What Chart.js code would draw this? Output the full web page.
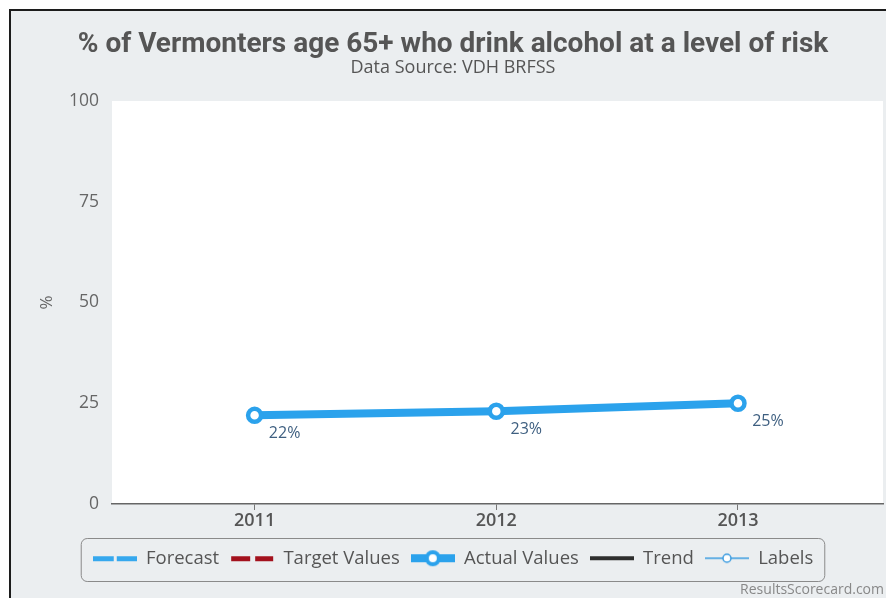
<!DOCTYPE html>
<html>
<head>
<meta charset="utf-8">
<script src="https://cdn.jsdelivr.net/npm/chart.js@4/dist/chart.umd.min.js"></script>
<style>
  html, body { margin: 0; padding: 0; background: #ffffff; overflow: hidden; width: 886px; height: 598px; }
  #frame { position: absolute; left: 9px; top: 9px; width: 900px; height: 600px;
           border-top: 2px solid #1c1c1c; border-left: 2px solid #1c1c1c; background: #ebeef0; }
  #c { position: absolute; left: 0; top: 0; }
</style>
</head>
<body>
<div id="frame"><canvas id="c" width="884" height="590"></canvas></div>
<script>
// ---- data ----
const chartTitle = '% of Vermonters age 65+ who drink alcohol at a level of risk';
const chartSubtitle = 'Data Source: VDH BRFSS';
const years = [2011, 2012, 2013];
const actualValues = [22, 23, 25];
const yTickValues = [0, 25, 50, 75, 100];
const legendNames = ['Forecast', 'Target Values', 'Actual Values', 'Trend', 'Labels'];
const yAxisTitle = '%';
const creditText = 'ResultsScorecard.com';

// ---- styles ----
const BLUE = '#2ba2ec';
const FONT = "'Open Sans', 'DejaVu Sans', sans-serif";
const TITLE_FONT = "'Liberation Sans Narrow', 'Roboto', sans-serif";
const ICON_W = 44;

function makeIcon(draw) {
  const cv = document.createElement('canvas');
  cv.width = ICON_W; cv.height = 20;
  const g = cv.getContext('2d');
  draw(g);
  return cv;
}
const icons = [
  makeIcon(g => { g.fillStyle = '#36a8ee'; g.fillRect(0, 8, 21, 5); g.fillRect(24, 8, 20, 5); }),
  makeIcon(g => { g.fillStyle = '#a3111d'; g.fillRect(1, 8, 19, 5); g.fillRect(25, 8, 18, 5); }),
  makeIcon(g => {
    g.fillStyle = BLUE; g.fillRect(0, 6, ICON_W, 8);
    g.beginPath(); g.arc(ICON_W / 2, 10, 6, 0, Math.PI * 2);
    g.fillStyle = '#fff'; g.fill(); g.lineWidth = 4; g.strokeStyle = BLUE; g.stroke();
  }),
  makeIcon(g => { g.fillStyle = '#2e2e2e'; g.fillRect(0, 8, ICON_W, 4); }),
  makeIcon(g => {
    g.strokeStyle = '#3a9be0'; g.lineWidth = 1.5;
    g.beginPath(); g.moveTo(0, 10); g.lineTo(ICON_W, 10); g.stroke();
    g.beginPath(); g.arc(ICON_W / 2, 10, 4, 0, Math.PI * 2);
    g.fillStyle = '#fff'; g.fill(); g.stroke();
  })
];

const plotBackground = {
  id: 'plotBackground',
  beforeDraw(chart) {
    const a = chart.chartArea;
    const ctx = chart.ctx;
    ctx.save();
    ctx.fillStyle = '#ffffff';
    ctx.fillRect(a.left, a.top, a.right - a.left, a.bottom - a.top);
    ctx.restore();
  }
};

const pointLabels = {
  id: 'pointLabels',
  afterDatasetsDraw(chart) {
    const ctx = chart.ctx;
    const ds = chart.data.datasets.findIndex(d => d.label === 'Actual Values');
    const meta = chart.getDatasetMeta(ds);
    ctx.save();
    ctx.font = '16px ' + FONT;
    ctx.fillStyle = '#3e5f80';
    ctx.textAlign = 'center';
    ctx.textBaseline = 'middle';
    meta.data.forEach((pt, i) => {
      ctx.fillText(actualValues[i] + '%', pt.x + 30, pt.y + 18);
    });
    ctx.restore();
  }
};

const legendBorder = {
  id: 'legendBorder',
  afterDraw(chart) {
    const lg = chart.legend;
    const hb = lg.legendHitBoxes;
    if (!hb || !hb.length) return;
    const ctx = chart.ctx;
    const x0 = hb[0].left - 11.5;
    const x1 = hb[hb.length - 1].left + hb[hb.length - 1].width + 11.5;
    const y0 = lg.top + 0.5, y1 = lg.top + 43.5, r = 6;
    ctx.save();
    ctx.strokeStyle = '#8a8a8a';
    ctx.lineWidth = 1;
    ctx.beginPath();
    ctx.moveTo(x0 + r, y0);
    ctx.arcTo(x1, y0, x1, y1, r);
    ctx.arcTo(x1, y1, x0, y1, r);
    ctx.arcTo(x0, y1, x0, y0, r);
    ctx.arcTo(x0, y0, x1, y0, r);
    ctx.closePath();
    ctx.stroke();
    ctx.font = '14px ' + FONT;
    ctx.fillStyle = '#888';
    ctx.textAlign = 'right';
    ctx.textBaseline = 'middle';
    ctx.fillText(creditText, 873, 579);
    ctx.restore();
  }
};

const datasets = legendNames.map(name => ({ label: name, data: [] }));
const actual = datasets.find(d => d.label === 'Actual Values');
Object.assign(actual, {
  data: years.map((yr, i) => ({ x: yr, y: actualValues[i] })),
  borderColor: BLUE,
  borderWidth: 8,
  pointRadius: 6.5,
  pointBorderWidth: 4.5,
  pointBackgroundColor: '#ffffff',
  pointBorderColor: BLUE,
  tension: 0
});

new Chart(document.getElementById('c'), {
  type: 'line',
  data: { datasets },
  plugins: [plotBackground, pointLabels, legendBorder],
  options: {
    responsive: false,
    animation: false,
    layout: { padding: { left: 12, right: 12, top: 0, bottom: 23.5 } },
    plugins: {
      tooltip: { enabled: false },
      title: {
        display: true, text: chartTitle, color: '#555555',
        font: { family: TITLE_FONT, size: 28, weight: 'bold', lineHeight: 1.0 },
        padding: { top: 20, bottom: 0 }
      },
      subtitle: {
        display: true, text: chartSubtitle, color: '#555555',
        font: { family: FONT, size: 18, lineHeight: 1.0 },
        padding: { top: 0, bottom: 24 }
      },
      legend: {
        position: 'bottom',
        onClick: null,
        labels: {
          usePointStyle: true,
          pointStyleWidth: ICON_W,
          padding: 11,
          color: '#555555',
          font: { family: FONT, size: 18.5 },
          generateLabels: () => legendNames.map((name, i) => ({
            text: name, pointStyle: icons[i], fontColor: '#555555',
            hidden: false, datasetIndex: i, lineWidth: 0,
            strokeStyle: 'rgba(0,0,0,0)', fillStyle: 'rgba(0,0,0,0)'
          }))
        }
      }
    },
    scales: {
      x: {
        type: 'linear',
        min: 2010.41, max: 2013.6,
        afterBuildTicks: s => { s.ticks = years.map(v => ({ value: v })); },
        afterFit: s => { s.height = 34; },
        grid: { drawOnChartArea: false, drawTicks: true, tickLength: 6, color: '#777777' },
        border: { display: true, color: '#666666', width: 1.5 },
        ticks: {
          color: '#555555', padding: 0,
          font: { family: FONT, size: 18, weight: '600' },
          callback: v => String(v)
        }
      },
      y: {
        min: 0, max: 100,
        afterBuildTicks: s => { s.ticks = yTickValues.map(v => ({ value: v })); },
        afterFit: s => { s.width = 89; },
        grid: { display: false, drawTicks: false },
        border: { display: false },
        ticks: {
          color: '#666666', padding: 13,
          font: { family: FONT, size: 17.5 },
          callback: v => String(v)
        },
        title: {
          display: true, text: yAxisTitle, color: '#666666',
          font: { family: FONT, size: 17 },
          padding: { top: 14, bottom: 0 }
        }
      }
    }
  }
});
</script>
</body>
</html>
